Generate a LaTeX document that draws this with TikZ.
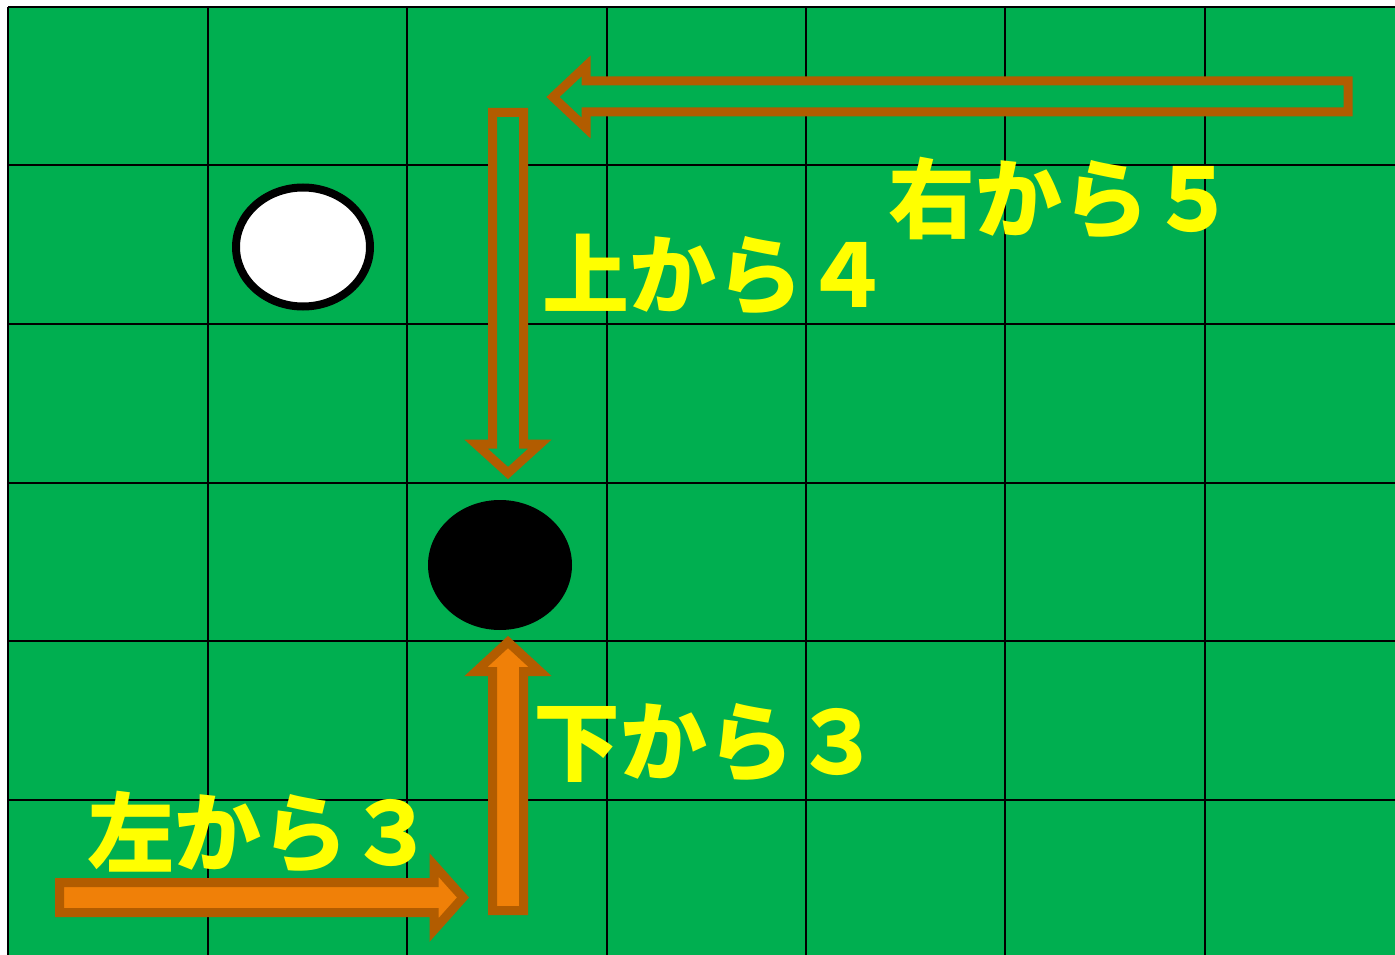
\documentclass[tikz,border=0pt]{standalone}
\usepackage{fontspec}
\usetikzlibrary{shapes.geometric}
\newfontfamily\cjk{Noto Sans CJK JP}
\definecolor{boardgreen}{RGB}{0,175,80}
\definecolor{arrowbrown}{RGB}{178,92,0}
\definecolor{arroworange}{RGB}{240,128,8}
\definecolor{lblyellow}{RGB}{255,255,0}
\tikzset{
  gridline/.style={black, line width=2pt},
  hollowarrow/.style={draw=arrowbrown, fill=boardgreen, line width=9pt, line join=miter},
  solidarrow/.style={draw=arrowbrown, fill=arroworange, line width=9pt, line join=miter},
  lbl/.style={text=lblyellow, inner sep=0pt, font=\cjk\bfseries\fontsize{87}{87}\selectfont},
}
\begin{document}
\begin{tikzpicture}[x=1pt,y=-1pt]
\useasboundingbox (0,0) rectangle (1395,955);
\fill[white] (0,0) rectangle (1395,955);
\fill[boardgreen] (8.3,6.7) rectangle (1395,955);
\foreach \i in {0,...,6} \draw[gridline] ({8.3+199.4*\i},6.7) -- ({8.3+199.4*\i},955);
\foreach \j in {0,...,5} \draw[gridline] (8.3,{6.7+158.6*\j}) -- (1395,{6.7+158.6*\j});
% stones
\node[draw=black, fill=white, line width=8pt, ellipse, minimum width=134pt, minimum height=119pt, inner sep=0pt] (white) at (303,247) {};
\node[fill=black, ellipse, minimum width=144pt, minimum height=130pt, inner sep=0pt] (black) at (500,565) {};
% arrows
\draw[hollowarrow] (1348,81) -- (586,81) -- (586,66) -- (553,97) -- (586,128) -- (586,112) -- (1348,112) -- cycle;
\draw[hollowarrow] (492.5,112.5) -- (523.5,112.5) -- (523.5,444) -- (540,444) -- (508,473) -- (476,444) -- (492.5,444) -- cycle;
\draw[solidarrow] (492.5,910.5) -- (523.5,910.5) -- (523.5,671.5) -- (540,671.5) -- (508,642) -- (476,671.5) -- (492.5,671.5) -- cycle;
\draw[solidarrow] (59.5,882.5) -- (434,882.5) -- (434,865) -- (463,897.5) -- (434,930) -- (434,912.5) -- (59.5,912.5) -- cycle;
% labels
\node[lbl] (right5) at (1062,199) {右から５};
\node[lbl] (top4) at (716,275) {上から４};
\node[lbl] (bottom3) at (707,743) {下から３};
\node[lbl] (left3) at (261,833) {左から３};
\end{tikzpicture}
\end{document}
